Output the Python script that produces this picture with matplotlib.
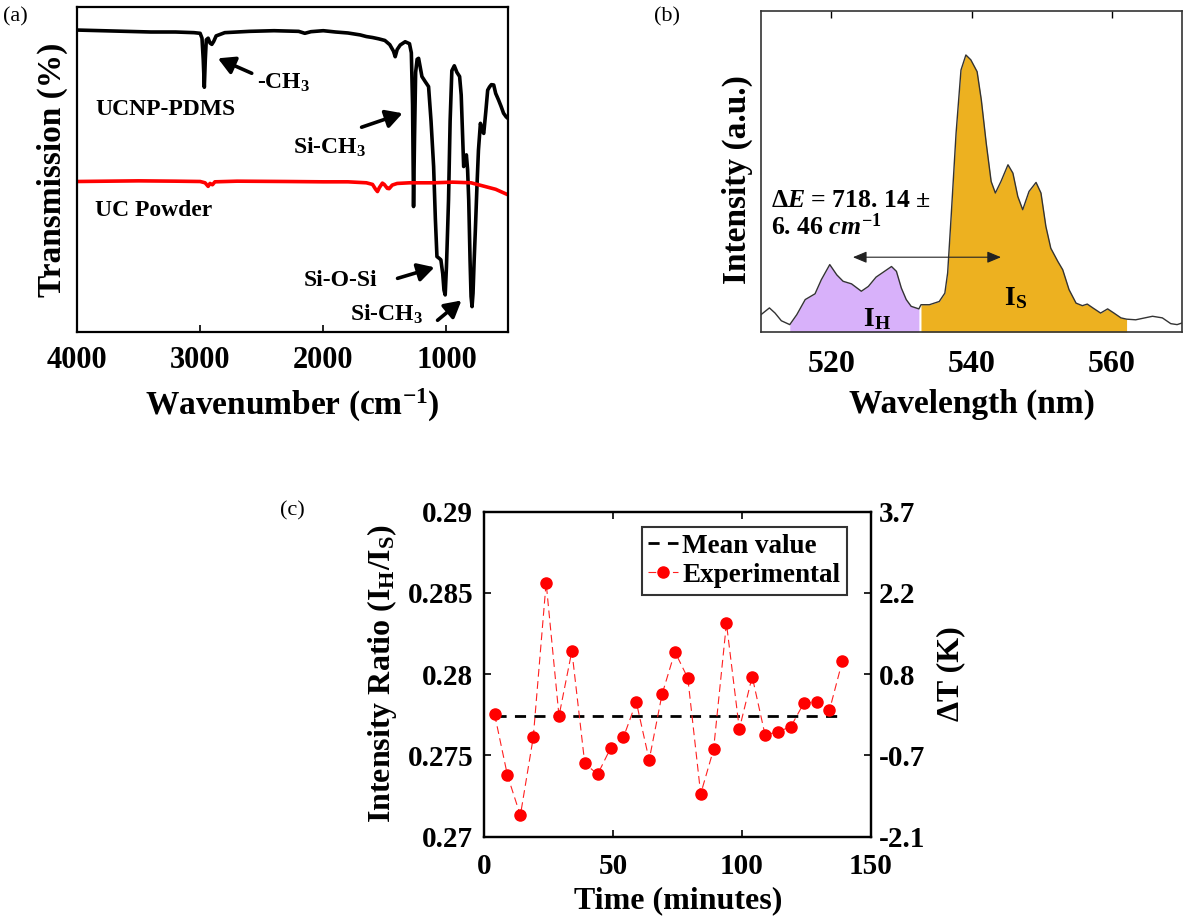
import numpy as np
import matplotlib
matplotlib.use("Agg")
import matplotlib.pyplot as plt

plt.rcParams['font.family'] = ['Liberation Serif', 'DejaVu Serif']
plt.rcParams['font.weight'] = 'bold'
plt.rcParams['mathtext.fontset'] = 'custom'
plt.rcParams['mathtext.rm'] = 'Liberation Serif:bold'
plt.rcParams['mathtext.bf'] = 'Liberation Serif:bold'
plt.rcParams['mathtext.it'] = 'Liberation Serif:italic:bold'
plt.rcParams['mathtext.default'] = 'bf'

# ---------------- data: panel (a) FTIR ----------------
wn_pdms = [4000, 3800, 3600, 3400, 3200, 3050, 3000, 2985, 2975, 2966, 2958, 2950, 2935, 2920,
           2905, 2890, 2870, 2800, 2600, 2400, 2200, 2150, 2100, 2000, 1900, 1800, 1700, 1650,
           1600, 1550, 1500, 1460, 1430, 1416, 1400, 1375, 1335, 1300, 1285, 1275, 1267, 1259,
           1250, 1238, 1226, 1210, 1199, 1170, 1145, 1125, 1104, 1090, 1077, 1060, 1045, 1030,
           1020, 1010, 1000, 990, 983, 970, 956, 936, 915, 893, 880, 870, 860, 850, 838, 828,
           819, 808, 800, 792, 784, 775, 765, 752, 740, 724, 710, 697, 680, 665, 650, 635, 616,
           600, 577, 556, 536, 515, 500]
tr_pdms = [93.0, 92.8, 92.6, 92.4, 92.4, 92.2, 92.0, 90.5, 84.0, 75.4, 84.0, 90.0, 90.5, 89.0,
           88.6, 89.5, 91.2, 92.2, 92.6, 92.8, 92.6, 92.0, 92.5, 92.8, 92.4, 92.1, 91.5, 91.0,
           90.7, 90.3, 89.8, 88.5, 86.5, 84.8, 87.0, 88.4, 89.4, 88.8, 86.0, 70.0, 38.7, 60.0,
           80.0, 84.0, 84.3, 81.0, 78.7, 77.0, 75.6, 65.0, 51.0, 35.0, 23.3, 22.8, 22.3, 18.0,
           13.0, 11.5, 20.0, 32.0, 40.7, 65.0, 80.5, 82.0, 80.0, 78.7, 73.0, 62.0, 51.0, 52.5,
           54.6, 50.0, 40.7, 22.0, 11.0, 7.9, 12.0, 22.0, 31.5, 45.0, 56.0, 64.3, 62.0, 61.2,
           68.0, 74.5, 75.5, 76.2, 76.1, 73.5, 71.5, 69.5, 67.4, 66.3, 65.8]

wn_uc = [4000, 3500, 3200, 3000, 2960, 2935, 2920, 2900, 2880, 2700, 2300, 2000, 1800, 1650,
         1600, 1575, 1560, 1545, 1520, 1505, 1480, 1465, 1440, 1400, 1300, 1100, 950, 800,
         700, 600, 500]
tr_uc = [46.4, 46.6, 46.5, 46.4, 46.0, 44.9, 45.8, 45.4, 46.3, 46.5, 46.4, 46.3, 46.3, 46.0,
         45.5, 44.0, 43.3, 44.5, 45.9, 45.5, 44.3, 44.2, 45.3, 45.8, 46.0, 46.0, 46.2, 46.0,
         45.0, 44.0, 42.3]
wn_ticks = [4000, 3000, 2000, 1000]

# ---------------- data: panel (b) emission spectrum ----------------
wl = [510.0, 511.2, 512.0, 512.9, 514.1, 515.1, 516.3, 517.7, 518.6, 519.8, 520.8, 521.7,
      522.9, 524.3, 525.3, 526.4, 528.6, 529.3, 530.0, 530.7, 531.4, 532.5, 532.8, 534.0,
      535.4, 536.2, 536.6, 537.1, 537.8, 538.5, 539.2, 539.9, 540.8, 541.4, 542.1, 542.8,
      543.4, 544.2, 545.2, 545.9, 546.6, 547.3, 548.2, 549.2, 549.9, 550.6, 551.3, 552.3,
      553.0, 553.9, 554.9, 555.8, 556.5, 557.3, 558.4, 559.4, 560.3, 561.3, 562.1, 563.4,
      565.8, 567.2, 568.4, 569.3, 570.0]
inten = [5.4, 7.5, 5.9, 3.5, 2.3, 5.4, 10.1, 11.9, 16.3, 21.0, 17.8, 15.8,
         15.0, 12.7, 14.2, 17.1, 20.4, 18.9, 13.7, 10.1, 8.0, 7.2, 8.5, 8.5,
         9.5, 12.1, 18.4, 36.0, 61.9, 81.6, 86.3, 84.8, 81.1, 72.3, 58.8, 46.9,
         43.3, 46.9, 52.1, 49.5, 42.2, 38.1, 43.8, 46.6, 43.3, 32.9, 26.1, 22.0,
         19.4, 13.2, 9.0, 8.2, 8.7, 7.5, 5.9, 7.2, 5.9, 4.4, 4.0, 3.8,
         4.9, 4.4, 2.6, 2.3, 2.8]
ih_range = (514.1, 532.5)
is_range = (532.8, 562.1)
wl_ticks = [520, 540, 560]

# ---------------- data: panel (c) stability ----------------
time_min = [4, 9, 14, 19, 24, 29, 34, 39, 44, 49, 54, 59, 64, 69, 74, 79, 84, 89, 94, 99,
            104, 109, 114, 119, 124, 129, 134, 139]
ratio = [0.27753, 0.27377, 0.27131, 0.27611, 0.28563, 0.27743, 0.28143, 0.27451, 0.27384,
         0.27544, 0.27611, 0.27829, 0.27472, 0.27876, 0.28138, 0.27976, 0.27263, 0.27537,
         0.28313, 0.27663, 0.27985, 0.27626, 0.27646, 0.27677, 0.27821, 0.27831, 0.27779,
         0.28081]
ratio_ticks = [0.27, 0.275, 0.28, 0.285, 0.29]
ratio_ticklabels = ['0.27', '0.275', '0.28', '0.285', '0.29']
dT_lim = (-2.1, 3.7)
dT_ticklabels = ['-2.1', '-0.7', '0.8', '2.2', '3.7']
time_ticks = [0, 50, 100, 150]

W, H = 1183, 924
fig = plt.figure(figsize=(W / 100, H / 100), dpi=100)


def rect(l, t, r, b):
    return [l / W, 1 - b / H, (r - l) / W, (b - t) / H]


def fpos(x, y):
    return (x / W, 1 - y / H)


# ================= panel (a) =================
axA = fig.add_axes(rect(77, 7.3, 508, 332.3))
axA.plot(wn_pdms, tr_pdms, color='k', lw=2.6, solid_joinstyle='round')
axA.plot(wn_uc, tr_uc, color='#ff0000', lw=2.6)
axA.set_xlim(4000, 500)
axA.set_ylim(0, 100)
axA.set_yticks([])
axA.set_xticks(wn_ticks)
axA.tick_params(axis='x', direction='in', length=5, width=1.2, labelsize=22, pad=10)
for s in axA.spines.values():
    s.set_linewidth(1.6)

txt_kw = dict(fontsize=17, fontweight='bold', va='baseline', ha='left')
axA.text(3854, 67.0, 'UCNP-PDMS', **txt_kw)
axA.text(3854, 35.7, 'UC Powder', **txt_kw)
axA.text(2540, 74.8, '-CH$_3$', **txt_kw)
axA.text(2248, 54.8, 'Si-CH$_3$', **txt_kw)
axA.text(2159, 14.2, 'Si-O-Si', **txt_kw)
axA.text(1786, 3.7, 'Si-CH$_3$', **txt_kw)
arr_kw = dict(arrowstyle='-|>,head_length=0.45,head_width=0.25', lw=2.6, color='k',
              mutation_scale=22, shrinkA=0, shrinkB=0)
for tail, head in [((2581, 79.7), (2856, 84.3)), ((1689, 63.1), (1356, 67.4)),
                   ((1397, 16.6), (1097, 20.0)), ((1072, 3.7), (878, 9.8))]:
    axA.annotate('', xy=head, xytext=tail, arrowprops=arr_kw)

fig.text(*fpos(292, 415), 'Wavenumber (cm$^{-1}$)', fontsize=24, ha='center', va='baseline')
fig.text(*fpos(52, 170), 'Transmission (%)', fontsize=24, ha='center', va='center', rotation=90)
fig.text(*fpos(3, 17), '(a)', fontsize=16, fontweight='normal', ha='left', va='center')

# ================= panel (b) =================
axB = fig.add_axes(rect(761, 11, 1182, 332))
wl_a = np.array(wl)
in_a = np.array(inten)
mh = (wl_a >= ih_range[0]) & (wl_a <= ih_range[1])
ms_ = (wl_a >= is_range[0]) & (wl_a <= is_range[1])
axB.fill_between(wl_a[mh], 0, in_a[mh], color='#d8b1fa', lw=0)
axB.fill_between(wl_a[ms_], 0, in_a[ms_], color='#edb120', lw=0)
axB.plot(wl_a, in_a, color='#333333', lw=1.0)
axB.set_xlim(510, 570)
axB.set_ylim(0, 100)
axB.set_yticks([])
axB.set_xticks(wl_ticks)
axB.tick_params(axis='x', direction='in', length=5, width=1.0, labelsize=23, pad=13,
                bottom=False, top=True, labelbottom=True)
for s in axB.spines.values():
    s.set_linewidth(1.2)
    s.set_color('#333333')

axB.text(524.5, 1.8, 'I$_\\mathbf{H}$', fontsize=20, ha='left', va='baseline')
axB.text(544.7, 8.5, 'I$_\\mathbf{S}$', fontsize=20, ha='left', va='baseline')
axB.text(511.4, 38.9, '$\\mathit{\\Delta E}$ = 718. 14 ±', fontsize=18.5, ha='left', va='baseline')
axB.text(511.4, 30.3, '6. 46 $\\mathit{cm}^{-1}$', fontsize=18.5, ha='left', va='baseline')
axB.annotate('', xy=(544.2, 23.3), xytext=(523.1, 23.3),
             arrowprops=dict(arrowstyle='<|-|>,head_length=0.6,head_width=0.25', lw=0.8,
                             color='#222222', mutation_scale=14, shrinkA=0, shrinkB=0))

fig.text(*fpos(972, 413), 'Wavelength (nm)', fontsize=24, ha='center', va='baseline')
fig.text(*fpos(737, 180), 'Intensity (a.u.)', fontsize=24, ha='center', va='center', rotation=90)
fig.text(*fpos(654, 17), '(b)', fontsize=16, fontweight='normal', ha='left', va='center')

# ================= panel (c) =================
axC = fig.add_axes(rect(484.3, 511.7, 870.7, 836.7))
mean_val = float(np.mean(ratio))
l_mean, = axC.plot([time_min[0], time_min[-1]], [mean_val, mean_val], color='k', lw=2.0,
                   ls=(0, (4, 3)), label='Mean value')
l_exp, = axC.plot(time_min, ratio, color='#ff2020', lw=0.8, ls=(0, (7, 4)), marker='o',
                  ms=8, mfc='#ff0000', mec='#ff0000', label='Experimental')
axC.set_xlim(0, 150)
axC.set_ylim(0.27, 0.29)
axC.set_xticks(time_ticks)
axC.set_yticks(ratio_ticks)
axC.set_yticklabels(ratio_ticklabels)
axC.tick_params(axis='x', direction='in', length=5, width=1.2, labelsize=21, pad=12, top=True)
axC.tick_params(axis='y', direction='in', length=5, width=1.2, labelsize=21, pad=8, right=False)
for s in axC.spines.values():
    s.set_linewidth(1.6)
axC2 = axC.twinx()
axC2.set_ylim(*dT_lim)
axC2.set_yticks(np.linspace(dT_lim[0], dT_lim[1], len(dT_ticklabels)))
axC2.set_yticklabels(dT_ticklabels)
axC2.tick_params(axis='y', direction='in', length=5, width=1.2, labelsize=21, pad=6)
for s in axC2.spines.values():
    s.set_linewidth(1.6)

leg = axC.legend(handles=[l_mean, l_exp], loc='upper right', bbox_to_anchor=(0.9387, 0.953),
                 borderaxespad=0, fontsize=19.5, frameon=True, fancybox=False,
                 handlelength=1.1, handletextpad=0.15, labelspacing=0.15, borderpad=0.25)
leg.get_frame().set_edgecolor('k')
leg.get_frame().set_linewidth(1.5)

fig.text(*fpos(678, 901), 'Time (minutes)', fontsize=23, ha='center', va='center')
fig.text(*fpos(382, 673), 'Intensity Ratio (I$_\\mathbf{H}$/I$_\\mathbf{S}$)', fontsize=23,
         ha='center', va='center', rotation=90)
fig.text(*fpos(951, 674), 'ΔT (K)', fontsize=23, ha='center', va='center', rotation=90)
fig.text(*fpos(280, 511), '(c)', fontsize=16, fontweight='normal', ha='left', va='center')

fig.savefig('out.png', dpi=100)
